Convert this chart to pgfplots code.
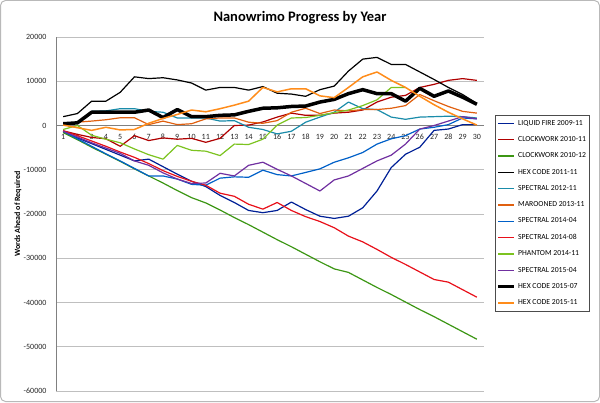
\documentclass[border=0pt]{standalone}
\usepackage{fontspec}
\setmainfont{Carlito}
\usepackage{pgfplots}
\usepackage{pgfplotstable}
\pgfplotsset{compat=1.18}

\definecolor{cLiquid}{RGB}{0,32,150}
\definecolor{cCw11}{RGB}{176,0,0}
\definecolor{cCw12}{RGB}{60,150,20}
\definecolor{cSp12}{RGB}{26,140,170}
\definecolor{cMar}{RGB}{224,96,16}
\definecolor{cSp1404}{RGB}{0,96,200}
\definecolor{cSp1408}{RGB}{232,16,26}
\definecolor{cPhan}{RGB}{124,195,32}
\definecolor{cSp1504}{RGB}{112,48,160}
\definecolor{cHx1511}{RGB}{255,140,26}

\pgfplotstableread{
day liquid cw11 cw12 hx11 sp12 mar sp1404 sp1408 phan sp1504 hx1507 hx1511
1 -1500 -1200 -1600 2000 500 400 -1300 -1200 -900 -1300 400 100
2 -2800 -2000 -3200 2700 500 750 -3000 -2300 0 -2600 600 -500
3 -4100 -2700 -4900 5500 3200 1000 -4700 -3500 -2200 -3900 3000 -1100
4 -5400 -3000 -6500 5500 3300 1300 -6400 -4700 -3100 -5100 3000 -400
5 -6700 -4700 -8100 7500 3800 1750 -8000 -6000 -3900 -6300 3000 -1000
6 -8000 -2300 -9800 11000 3800 1750 -9700 -7200 -5300 -8000 3000 -900
7 -7600 -3400 -11400 10600 3200 200 -11400 -8600 -6600 -9000 3500 500
8 -9300 -2800 -13000 10800 3000 1000 -11400 -10200 -7600 -10700 1800 1600
9 -11000 -3100 -14700 10300 1700 200 -12100 -11500 -4500 -12100 3600 2500
10 -12600 -2900 -16300 9600 1700 400 -13300 -12600 -5600 -13100 2000 3500
11 -13800 -3800 -17500 8000 1700 1500 -13500 -13500 -5800 -13000 2000 3100
12 -15800 -2900 -19100 8600 1000 1700 -11900 -15300 -6800 -10800 2300 3800
13 -17400 0 -20800 8600 1100 1700 -11600 -16000 -4200 -11400 2400 4600
14 -19200 100 -22400 8000 -400 750 -11700 -17800 -4300 -9000 3200 5500
15 -19700 800 -24100 8800 -900 500 -10100 -18900 -3100 -8300 3900 8600
16 -19200 1900 -25800 7300 -1900 1100 -11100 -17400 100 -9900 4000 7600
17 -17300 2800 -27400 7100 -1300 3000 -11400 -19200 1700 -11400 4300 8300
18 -19000 2300 -29100 6600 750 3900 -10600 -20600 1800 -13100 4400 8300
19 -20500 2300 -30800 8100 1900 2700 -9800 -21700 2300 -14800 5300 6700
20 -21000 2800 -32400 8900 3000 3500 -8300 -23100 2900 -12300 5900 6300
21 -20500 3000 -33200 12300 5300 3300 -7300 -25000 3500 -11400 7200 8600
22 -18600 3500 -34900 15000 3800 3600 -6100 -26300 4500 -9700 8100 11000
23 -14800 5300 -36600 15400 3600 3600 -4200 -28000 5800 -8000 7200 12100
24 -9500 6400 -38200 13800 1900 3900 -3000 -29800 8600 -6700 7200 10200
25 -6500 6800 -39900 13800 1400 4500 -2300 -31400 8600 -4200 5500 8600
26 -4900 8600 -41600 12100 1900 7000 -800 -33100 nan -800 8400 6600
27 -1100 9300 -43200 10400 2000 5600 -400 -34800 nan 0 6600 4700
28 -800 10200 -44900 8600 2100 4300 200 -35400 nan 1000 7800 3000
29 200 10600 -46600 7000 2000 3200 1700 -37100 nan 2000 6400 1500
30 200 10200 -48300 5000 1700 2800 1500 -38800 nan 1500 4800 100
}\progress

\begin{document}
\begin{tikzpicture}[x=1pt,y=1pt]
\useasboundingbox (0,0) rectangle (600,402);
\draw[gray!55, line width=1pt, rounded corners=5pt] (0.5,0.5) rectangle (599.5,401.5);
\node[font=\bfseries\fontsize{14.5}{17}\selectfont] at (300,384.5) {Nanowrimo Progress by Year};
\begin{axis}[
  at={(56pt,11pt)}, anchor=south west,
  scale only axis, width=428pt, height=354pt,
  xmin=0.5, xmax=30.5, ymin=-60000, ymax=20000,
  axis x line=middle, axis y line=left,
  axis line style={-, draw=gray, line width=0.8pt},
  xtick={1,...,30},
  ytick={-60000,-50000,-40000,-30000,-20000,-10000,0,10000,20000},
  yticklabels={-60000,-50000,-40000,-30000,-20000,-10000,0,10000,20000},
  scaled y ticks=false,
  /pgf/number format/assume math mode=true,
  major tick length=0pt,
  ymajorgrids, grid style={draw=gray!50, line width=0.8pt},
  tick label style={font=\fontsize{8}{9}\selectfont, text=black!85},
  xticklabel style={yshift=-5pt},
  yticklabel style={xshift=-6pt},
  ylabel={Words Ahead of Required},
  ylabel style={at={(axis description cs:-0.0888,0.5)}, anchor=center, font=\bfseries\fontsize{8}{9}\selectfont},
  no markers,
  every axis plot/.append style={line width=1.2pt, line join=round},
  legend cell align=left,
  legend image code/.code={\draw[#1] (0pt,0pt) -- (16pt,0pt);},
  legend style={at={(1.0257,0.7797)}, anchor=north west, draw=black!70,
    font=\fontsize{7.7}{9}\selectfont, inner xsep=1.5pt, inner ysep=3pt, row sep=5.8pt},
]
\addplot[cLiquid] table[x=day,y=liquid] {\progress};
\addlegendentry{LIQUID FIRE 2009-11}
\addplot[cCw11] table[x=day,y=cw11] {\progress};
\addlegendentry{CLOCKWORK 2010-11}
\addplot[cCw12] table[x=day,y=cw12] {\progress};
\addlegendentry{CLOCKWORK 2010-12}
\addplot[black] table[x=day,y=hx11] {\progress};
\addlegendentry{HEX CODE 2011-11}
\addplot[cSp12] table[x=day,y=sp12] {\progress};
\addlegendentry{SPECTRAL 2012-11}
\addplot[cMar] table[x=day,y=mar] {\progress};
\addlegendentry{MAROONED 2013-11}
\addplot[cSp1404] table[x=day,y=sp1404] {\progress};
\addlegendentry{SPECTRAL 2014-04}
\addplot[cSp1408] table[x=day,y=sp1408] {\progress};
\addlegendentry{SPECTRAL 2014-08}
\addplot[cPhan] table[x=day,y=phan] {\progress};
\addlegendentry{PHANTOM 2014-11}
\addplot[cSp1504] table[x=day,y=sp1504] {\progress};
\addlegendentry{SPECTRAL 2015-04}
\addplot[black, line width=3.5pt] table[x=day,y=hx1507] {\progress};
\addlegendentry{HEX CODE 2015-07}
\addplot[cHx1511, line width=1.5pt] table[x=day,y=hx1511] {\progress};
\addlegendentry{HEX CODE 2015-11}
\end{axis}
\end{tikzpicture}
\end{document}
